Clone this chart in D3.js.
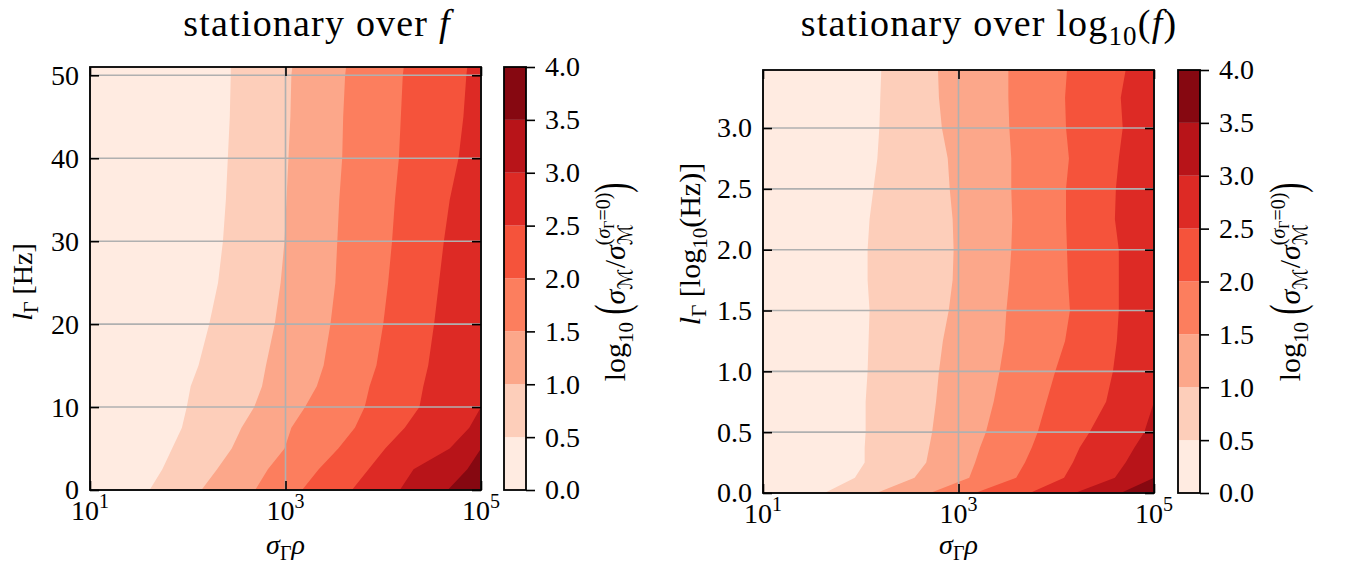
<!DOCTYPE html>
<html>
<head>
<meta charset="utf-8">
<script src="https://cdn.jsdelivr.net/npm/d3@7"></script>
<style>
  body { margin: 0; background: #fff; }
  svg text { font-family: "Liberation Serif", "DejaVu Serif", serif; fill: #000; white-space: pre; }
</style>
</head>
<body>
<div id="chart"></div>
<script>
// contour levels of log10(sigma_M / sigma_M^(sigma_Gamma=0))
var levels = [0, 0.5, 1, 1.5, 2, 2.5, 3, 3.5, 4];
var cbarTicks = [0, 0.5, 1, 1.5, 2, 2.5, 3, 3.5, 4];
var xTicks = [1e1, 1e3, 1e5];

// left panel: rows of l_Gamma [Hz]; per level 0.5..3.5 the log10(sigma_Gamma rho) where the level is crossed
var linRows = [51, 50, 45, 40, 35, 30, 25, 20, 15, 12.5, 10, 7.5, 5, 2.5, 0];
var linBounds = [
  [2.44, 2.44, 2.43, 2.41, 2.39, 2.36, 2.31, 2.22, 2.11, 2.03, 1.99, 1.94, 1.84, 1.74, 1.61],
  [3.07, 3.06, 3.05, 3.03, 3.01, 2.99, 2.95, 2.89, 2.80, 2.76, 2.68, 2.55, 2.45, 2.30, 2.14],
  [3.62, 3.61, 3.59, 3.58, 3.55, 3.53, 3.51, 3.46, 3.39, 3.32, 3.20, 3.06, 2.99, 2.82, 2.69],
  [4.21, 4.20, 4.18, 4.16, 4.12, 4.09, 4.05, 4.00, 3.93, 3.86, 3.81, 3.71, 3.54, 3.34, 3.17],
  [4.86, 4.85, 4.82, 4.77, 4.68, 4.62, 4.57, 4.52, 4.46, 4.41, 4.37, 4.22, 4.02, 3.85, 3.68],
  [5, 5, 5, 5, 5, 5, 5, 5, 5, 5, 5, 4.88, 4.68, 4.31, 4.17],
  [5, 5, 5, 5, 5, 5, 5, 5, 5, 5, 5, 5, 5, 4.86, 4.66]
];
var linYTicks = [0, 10, 20, 30, 40, 50];

// right panel: rows of l_Gamma [log10(Hz)]
var logRows = [3.477, 3.25, 3, 2.75, 2.5, 2.25, 2, 1.75, 1.5, 1.25, 1, 0.75, 0.5, 0.375, 0.25, 0.125, 0];
var logBounds = [
  [2.21, 2.20, 2.19, 2.17, 2.13, 2.09, 2.07, 2.07, 2.09, 2.08, 2.07, 2.05, 2.05, 2.04, 2.04, 1.94, 1.63],
  [2.79, 2.80, 2.83, 2.89, 2.91, 2.94, 2.95, 2.94, 2.90, 2.84, 2.80, 2.77, 2.73, 2.70, 2.67, 2.55, 2.16],
  [3.51, 3.51, 3.52, 3.54, 3.54, 3.55, 3.54, 3.52, 3.49, 3.47, 3.42, 3.36, 3.28, 3.22, 3.17, 3.11, 2.71],
  [4.11, 4.09, 4.10, 4.13, 4.10, 4.10, 4.11, 4.12, 4.14, 4.09, 3.99, 3.90, 3.81, 3.75, 3.68, 3.59, 3.17],
  [4.71, 4.66, 4.68, 4.64, 4.61, 4.60, 4.64, 4.64, 4.64, 4.62, 4.58, 4.51, 4.34, 4.24, 4.17, 4.08, 3.73],
  [5, 5, 5, 5, 5, 5, 5, 5, 5, 5, 5, 5, 4.90, 4.80, 4.71, 4.60, 4.19],
  [5, 5, 5, 5, 5, 5, 5, 5, 5, 5, 5, 5, 5, 5, 5, 5, 4.66]
];
var logYTicks = [0, 0.5, 1, 1.5, 2, 2.5, 3];

var svg = d3.select("#chart").append("svg")
    .attr("width", 1346)
    .attr("height", 565);

// matplotlib "Reds", sampled in the middle of each level band
var reds = d3.piecewise(d3.interpolateRgb, d3.schemeReds[9]);
var nBands = levels.length - 1;
var bandColor = d3.range(nBands).map(function(k) { return reds((k + 0.5) / nBands); });

// write a line of text made of pieces (sub/superscripts, italics), measured one by one
function rich(parent, parts, x, y, anchor, angle, spacing) {
  var g = parent.append("g")
      .attr("transform", "translate(" + x + "," + y + ")" + (angle ? " rotate(" + angle + ")" : ""));
  var inner = g.append("g");
  var cursor = 0, maxX = 0, lastStart = 0;
  parts.forEach(function(p) {
    var sy = p.sy || 1;
    var t = inner.append("text")
        .attr("y", (p.dy || 0) / sy)
        .style("font-size", (p.s || 27) + "px")
        .style("font-style", p.it ? "italic" : "normal")
        .text(p.t);
    if (spacing) t.style("letter-spacing", spacing + "px");
    if (p.f) t.style("font-family", p.f);
    if (sy != 1) t.attr("transform", "scale(1," + sy + ")");
    var start = p.stack ? lastStart : (p.clear ? maxX : cursor);
    t.attr("x", start);
    var w = t.node().getComputedTextLength();
    lastStart = start;
    cursor = start + w;
    maxX = Math.max(maxX, cursor);
  });
  var shift = anchor == "middle" ? -maxX / 2 : (anchor == "end" ? -maxX : 0);
  inner.attr("transform", "translate(" + shift + ",0)");
  return g;
}

var cbarLabel = [
  {t: "log", s: 30}, {t: "10", s: 21, dy: 8},
  {t: " (", s: 30, sy: 1.65, dy: 3},
  {t: "σ", s: 30, it: true}, {t: "ℳ", s: 20, dy: 7, f: "'DejaVu Sans'"},
  {t: "/", s: 30},
  {t: "σ", s: 30, it: true}, {t: "ℳ", s: 20, dy: 7, f: "'DejaVu Sans'"},
  {t: "(", s: 20, dy: -15, stack: true}, {t: "σ", s: 20, dy: -15, it: true}, {t: "Γ", s: 14, dy: -11}, {t: "=0)", s: 20, dy: -15},
  {t: ")", s: 30, sy: 1.65, dy: 3, clear: true}
];

var panels = [
  {left: 90, top: 67, w: 391, h: 423, yMax: 51, rows: linRows, bounds: linBounds,
   yTicks: linYTicks, yFmt: d3.format("d"), cbLeft: 504, cbLabX: 625,
   title: [{t: "stationary over ", s: 38}, {t: "f", s: 38, it: true}], titleX: 317,
   ylab: [{t: "l", it: true, s: 28}, {t: "Γ", s: 20, dy: 6}, {t: " [Hz]", s: 28}], ylabX: 32, ylabY: 282},
  {left: 763, top: 70, w: 391, h: 423, yMax: 3.477, rows: logRows, bounds: logBounds,
   yTicks: logYTicks, yFmt: d3.format(".1f"), cbLeft: 1178, cbLabX: 1300,
   title: [{t: "stationary over log", s: 38}, {t: "10", s: 27, dy: 9}, {t: "(", s: 38}, {t: "f", s: 38, it: true}, {t: ")", s: 38}], titleX: 989,
   ylab: [{t: "l", it: true, s: 30}, {t: "Γ", s: 21, dy: 6}, {t: " [log", s: 30}, {t: "10", s: 21, dy: 7}, {t: "(Hz)]", s: 30}], ylabX: 700, ylabY: 244}
];

panels.forEach(function(p) {
  var g = svg.append("g").attr("transform", "translate(" + p.left + "," + p.top + ")");
  var x = d3.scaleLog().domain([xTicks[0], xTicks[xTicks.length - 1]]).range([0, p.w]);
  var y = d3.scaleLinear().domain([0, p.yMax]).range([p.h, 0]);
  var lo = Math.log10(xTicks[0]);

  // filled contours: band k covers everything right of the level-k boundary
  for (var k = 0; k < nBands; k++) {
    var edge = k === 0 ? p.rows.map(function() { return lo; }) : p.bounds[k - 1];
    var pts = p.rows.map(function(r, i) { return {r: r, a: edge[i]}; });
    g.append("path")
        .datum(pts)
        .attr("fill", bandColor[k])
        .attr("d", d3.area()
          .y(function(d) { return y(d.r); })
          .x0(function(d) { return x(Math.pow(10, d.a)); })
          .x1(p.w));
  }

  // grid
  g.selectAll(".hgrid").data(p.yTicks).enter().append("line")
      .attr("x1", 0).attr("x2", p.w)
      .attr("y1", function(d) { return y(d); }).attr("y2", function(d) { return y(d); })
      .attr("stroke", "#b0b0b0").attr("stroke-width", 1.6);
  g.selectAll(".vgrid").data(xTicks).enter().append("line")
      .attr("x1", function(d) { return x(d); }).attr("x2", function(d) { return x(d); })
      .attr("y1", 0).attr("y2", p.h)
      .attr("stroke", "#b0b0b0").attr("stroke-width", 1.6);

  // inward ticks on all four sides
  g.append("g").attr("class", "ax").call(d3.axisLeft(y).tickValues(p.yTicks).tickFormat(p.yFmt).tickSize(-9).tickPadding(11));
  g.append("g").attr("class", "ax").attr("transform", "translate(" + p.w + ",0)")
      .call(d3.axisRight(y).tickValues(p.yTicks).tickFormat("").tickSize(-9));
  g.append("g").attr("class", "ax").attr("transform", "translate(0," + p.h + ")")
      .call(d3.axisBottom(x).tickValues(xTicks).tickFormat("").tickSize(-9));
  g.append("g").attr("class", "ax").call(d3.axisTop(x).tickValues(xTicks).tickFormat("").tickSize(-9));

  g.append("rect")
      .attr("width", p.w).attr("height", p.h)
      .attr("fill", "none").attr("stroke", "#000").attr("stroke-width", 1.8);

  // x tick labels 10^n
  xTicks.forEach(function(v) {
    rich(g, [{t: "10", s: 28}, {t: String(Math.round(Math.log10(v))), s: 20, dy: -12}], x(v), p.h + 30, "middle");
  });

  // colorbar
  var cb = svg.append("g").attr("transform", "translate(" + p.cbLeft + "," + p.top + ")");
  var cy = d3.scaleLinear().domain([levels[0], levels[nBands]]).range([p.h, 0]);
  cb.selectAll(".band").data(d3.range(nBands)).enter().append("rect")
      .attr("x", 0).attr("width", 22)
      .attr("y", function(k) { return cy(levels[k + 1]); })
      .attr("height", function(k) { return cy(levels[k]) - cy(levels[k + 1]); })
      .attr("fill", function(k) { return bandColor[k]; });
  cb.append("rect")
      .attr("width", 22).attr("height", p.h)
      .attr("fill", "none").attr("stroke", "#000").attr("stroke-width", 1.8);
  cb.append("g").attr("class", "ax").attr("transform", "translate(22,0)")
      .call(d3.axisRight(cy).tickValues(cbarTicks).tickFormat(d3.format(".1f")).tickSize(9).tickPadding(10));

  // texts
  rich(svg, p.title, p.titleX, 36, "middle", 0, 1.2);
  rich(svg, p.ylab, p.ylabX, p.ylabY, "middle", -90);
  rich(svg, [{t: "σ", it: true, s: 28}, {t: "Γ", s: 20, dy: 6}, {t: "ρ", it: true, s: 28}], p.left + p.w / 2, 554, "middle");
  rich(svg, cbarLabel, p.cbLabX, 282, "middle", -90);
});

svg.selectAll(".ax .domain").remove();
svg.selectAll(".ax line").attr("stroke", "#000").attr("stroke-width", 1.6);
svg.selectAll(".ax text")
    .style("font-family", "'Liberation Serif', 'DejaVu Serif', serif")
    .style("font-size", "28px");
</script>
</body>
</html>
